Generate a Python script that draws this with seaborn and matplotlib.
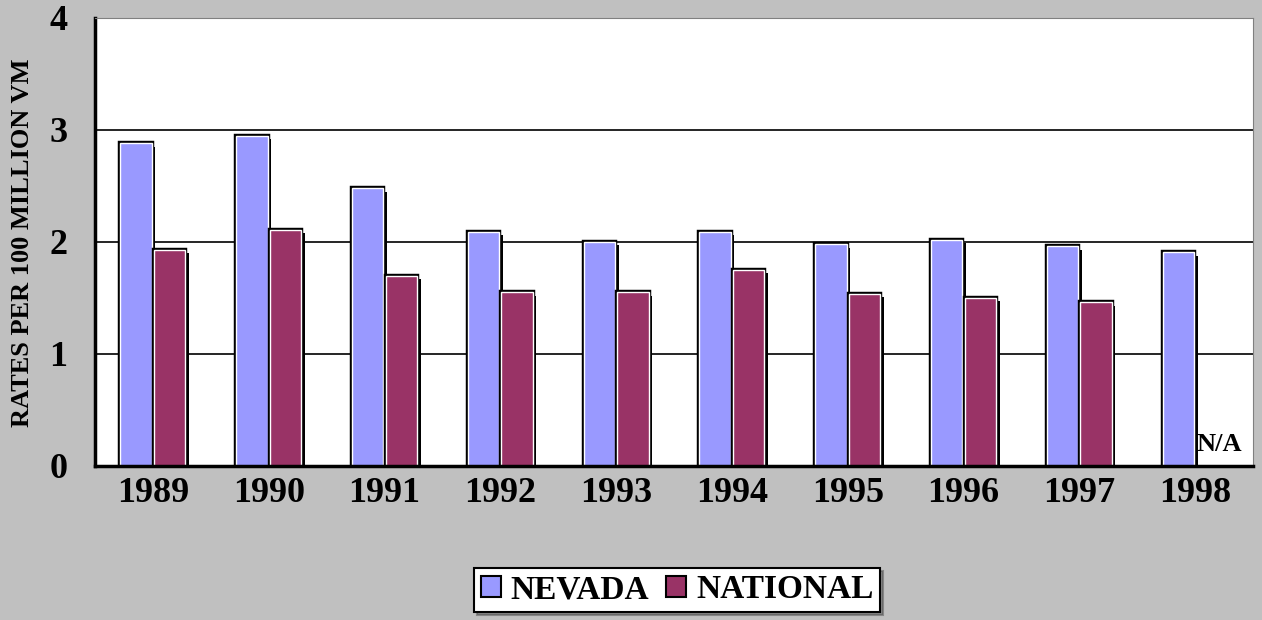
import numpy as np
import pandas as pd
import matplotlib
matplotlib.use("Agg")
import matplotlib.pyplot as plt
import matplotlib.patheffects as pe
import seaborn as sns

years = ["1989", "1990", "1991", "1992", "1993", "1994", "1995", "1996", "1997", "1998"]
nevada = [2.88, 2.95, 2.48, 2.09, 2.00, 2.09, 1.98, 2.02, 1.96, 1.91]
national = [1.93, 2.11, 1.70, 1.55, 1.55, 1.75, 1.54, 1.50, 1.46, np.nan]
series = ["NEVADA", "NATIONAL"]
colors = ["#9999FF", "#993366"]

df = pd.DataFrame({
    "Year": years * 2,
    "Rate": nevada + national,
    "Series": [series[0]] * len(years) + [series[1]] * len(years),
})

sns.set_theme(style="white")
plt.rcParams["font.family"] = ["Liberation Serif", "DejaVu Serif"]
plt.rcParams["font.weight"] = "bold"
plt.rcParams["text.color"] = "black"
plt.rcParams["axes.labelcolor"] = "black"
plt.rcParams["xtick.color"] = "black"
plt.rcParams["ytick.color"] = "black"

fig = plt.figure(figsize=(12.62, 6.2), dpi=100, facecolor="#C0C0C0")
ax = fig.add_axes([95 / 1262, 1 - 466 / 620, (1253 - 95) / 1262, (466 - 18) / 620])
ax.set_facecolor("white")

sns.barplot(data=df, x="Year", y="Rate", hue="Series", palette=colors,
            order=years, hue_order=series, width=0.58, gap=0.06, saturation=1,
            edgecolor="white", linewidth=1.0, ax=ax)

# black outline + drop shadow, white inner edge
bar_fx = [pe.SimplePatchShadow(offset=(2.5, -2.5), shadow_rgbFace="black", alpha=1.0),
          pe.Stroke(linewidth=3.2, foreground="black"), pe.Normal()]
for p in ax.patches:
    if not np.isnan(p.get_height()) and p.get_height() > 0:
        p.set_path_effects(bar_fx)

ax.set_ylim(0, 4)
ax.set_yticks([0, 1, 2, 3, 4])
ax.yaxis.grid(True, color="black", linewidth=1.2)
ax.set_axisbelow(True)
ax.set_xlabel("")
ax.set_ylabel("")
ax.tick_params(axis="both", length=0, labelsize=26)
ax.tick_params(axis="x", pad=8)
ax.tick_params(axis="y", pad=20)
for lab in ax.get_xticklabels() + ax.get_yticklabels():
    lab.set_fontweight("bold")

fig.text(23 / 1262, 1 - 243 / 620, "RATES PER 100 MILLION VM", rotation=90,
         fontsize=19, fontweight="bold", ha="center", va="center")

for side in ["left", "bottom"]:
    ax.spines[side].set_linewidth(2.5)
    ax.spines[side].set_color("black")
for side in ["top", "right"]:
    ax.spines[side].set_linewidth(0.8)
    ax.spines[side].set_color("#808080")

ax.text(9.21, 0.19, "N/A", fontsize=19, fontweight="bold", ha="center", va="center")

ax.legend_.remove()
handles = [plt.Rectangle((0, 0), 1, 1, facecolor=c, edgecolor="black", linewidth=1.5) for c in colors]
leg = fig.legend(handles, series, loc="center", bbox_to_anchor=(677 / 1262, 1 - 590 / 620),
                 ncol=2, frameon=True, fancybox=False, shadow=True,
                 prop={"size": 24, "weight": "bold"}, handlelength=0.6, handleheight=0.6,
                 handletextpad=0.3, columnspacing=0.5, borderpad=0.2, borderaxespad=0)
leg.get_frame().set_edgecolor("black")
leg.get_frame().set_linewidth(1.5)
leg.get_frame().set_facecolor("white")

fig.savefig("out.png", dpi=100, facecolor=fig.get_facecolor())
